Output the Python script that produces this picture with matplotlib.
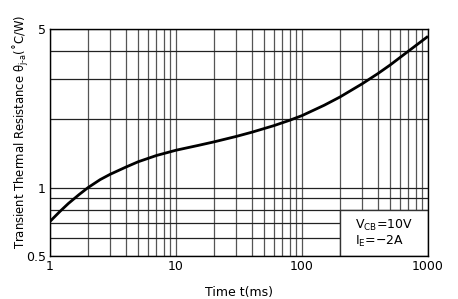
import numpy as np
import matplotlib
matplotlib.use("Agg")
import matplotlib.pyplot as plt
from matplotlib.patches import Rectangle
from matplotlib.ticker import FixedLocator, NullFormatter

plt.rcParams['font.family'] = ['DejaVu Sans']
plt.rcParams['mathtext.fontset'] = 'dejavusans'

# curve
time_ms = [1, 1.2, 1.4, 1.7, 2, 2.5, 3, 4, 5, 7, 10, 15, 20, 30, 40, 60, 80,
           100, 150, 200, 300, 400, 500, 700, 1000]
resistance = [0.71, 0.786, 0.852, 0.932, 1.0, 1.085, 1.145, 1.232, 1.300,
              1.386, 1.462, 1.535, 1.591, 1.681, 1.755, 1.877, 1.982, 2.077,
              2.307, 2.508, 2.867, 3.180, 3.469, 3.996, 4.642]

x_major = [1, 10, 100, 1000]
x_labels = ["1", "10", "100", "1000"]
y_major = [0.5, 1, 5]
y_labels = ["0.5", "1", "5"]
y_minor = [0.6, 0.7, 0.8, 0.9, 2, 3, 4]
x_minor = [m * d for d in (1, 10, 100) for m in range(2, 10)]

fig = plt.figure(figsize=(4.58, 2.99), dpi=100)
ax = fig.add_axes([50 / 458, 43 / 299, 378 / 458, 227 / 299])
ax.set_xscale('log')
ax.set_yscale('log')
ax.set_xlim(1, 1000)
ax.set_ylim(0.5, 5)

ax.xaxis.set_major_locator(FixedLocator(x_major))
ax.xaxis.set_minor_locator(FixedLocator(x_minor))
ax.yaxis.set_major_locator(FixedLocator(y_major))
ax.yaxis.set_minor_locator(FixedLocator(y_minor))
ax.set_xticklabels(x_labels)
ax.set_yticklabels(y_labels)
ax.xaxis.set_minor_formatter(NullFormatter())
ax.yaxis.set_minor_formatter(NullFormatter())
ax.tick_params(which='both', length=0, labelsize=9, pad=3)

ax.set_axisbelow(True)
ax.grid(which='both', axis='x', color='#555555', lw=0.9)
ax.grid(which='both', axis='y', color='#222222', lw=0.9)
for s in ax.spines.values():
    s.set_color('black')
    s.set_linewidth(1.0)

# condition box in the lower right corner
box = Rectangle((200, 0.5), 800, 0.3, facecolor='white', edgecolor='#333333',
                lw=1.0, zorder=2)
ax.add_patch(box)
ax.text(0.807, 0.133, r'V$_{\mathrm{CB}}$=10V', transform=ax.transAxes,
        fontsize=9, va='center', ha='left', zorder=4)
ax.text(0.807, 0.063, 'I$_{\\mathrm{E}}$=\u22122A', transform=ax.transAxes,
        fontsize=9, va='center', ha='left', zorder=4)

ax.plot(time_ms, resistance, color='black', lw=2, zorder=5,
        solid_capstyle='butt', solid_joinstyle='round')

ax.set_xlabel('Time t(ms)', fontsize=9, labelpad=9)
fig.text(21 / 458, 50 / 299,
         'Transient Thermal Resistance θ$_{\\mathrm{j\\text{-}a}}$(˚C/W)',
         rotation=90, ha='center', va='bottom', fontsize=8.4)

fig.savefig('out.png', dpi=100)
